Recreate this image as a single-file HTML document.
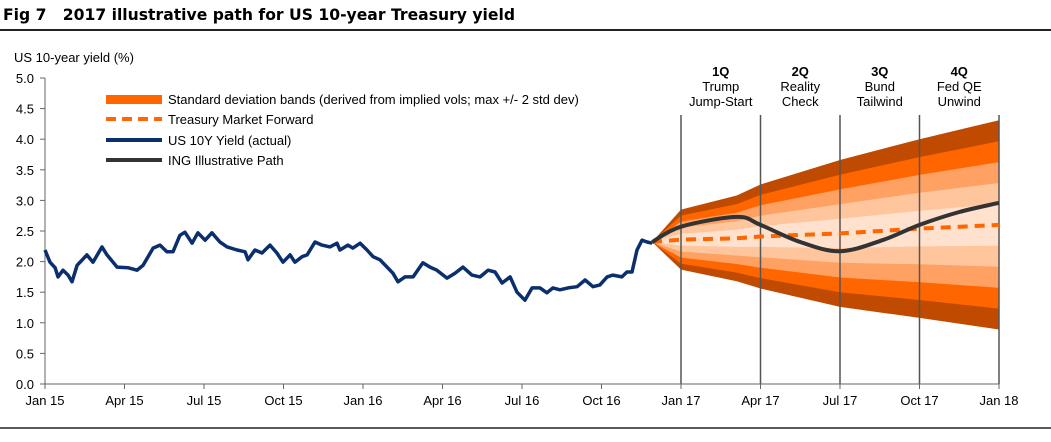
<!DOCTYPE html>
<html><head><meta charset="utf-8">
<style>
html,body{margin:0;padding:0;background:#fff;}
body{width:1051px;height:437px;overflow:hidden;font-family:"Liberation Sans",Arial,sans-serif;}
svg text{font-family:"Liberation Sans",Arial,sans-serif;}
</style></head>
<body>
<svg id="chart" width="1051" height="437" viewBox="0 0 1051 437">
  <text x="3" y="20" font-size="16" font-weight="bold" fill="#000" textLength="512" lengthAdjust="spacingAndGlyphs" style="font-family:'DejaVu Sans',sans-serif">Fig 7&#160;&#160; 2017 illustrative path for US 10-year Treasury yield</text>
  <line x1="0" y1="30" x2="1051" y2="30" stroke="#222" stroke-width="2"/>
  <line x1="0" y1="428" x2="1051" y2="428" stroke="#222" stroke-width="1.5"/>
  <text x="14" y="62" font-size="13" fill="#000">US 10-year yield (%)</text>
  <g id="bands"></g>
  <g id="vlines"></g>
  <g id="axes"></g>
  <g id="series"></g>
  <g id="legend">
    <rect x="106" y="95" width="56" height="9" fill="#FF6600"/>
    <text x="168" y="104" font-size="13">Standard deviation bands (derived from implied vols; max +/- 2 std dev)</text>
    <line x1="106" y1="119" x2="162" y2="119" stroke="#FF6600" stroke-width="4" stroke-dasharray="10,6"/>
    <text x="168" y="124" font-size="13">Treasury Market Forward</text>
    <line x1="106" y1="140" x2="162" y2="140" stroke="#0B2F6E" stroke-width="4"/>
    <text x="168" y="145" font-size="13">US 10Y Yield (actual)</text>
    <line x1="106" y1="160" x2="162" y2="160" stroke="#333" stroke-width="4"/>
    <text x="168" y="165" font-size="13">ING Illustrative Path</text>
  </g>
  <g id="qlabels"></g>
</svg>
<script>
// ---- data ----
const xTickLabels = ["Jan 15","Apr 15","Jul 15","Oct 15","Jan 16","Apr 16","Jul 16","Oct 16","Jan 17","Apr 17","Jul 17","Oct 17","Jan 18"];
const yTicks = [0,0.5,1,1.5,2,2.5,3,3.5,4,4.5,5];
// actual yield: months since Jan 2015
const actualMonths = [0,.19,.38,.49,.68,.87,1.02,1.21,1.58,1.81,2.15,2.34,2.72,3.13,3.47,3.70,4.08,4.34,4.60,4.83,5.09,5.28,5.55,5.77,6.04,6.30,6.60,6.87,7.25,7.55,7.66,7.92,8.19,8.49,8.75,8.98,9.25,9.43,9.70,9.89,10.19,10.45,10.75,11.02,11.13,11.43,11.62,11.89,12.15,12.38,12.64,12.91,13.13,13.32,13.58,13.89,14.26,14.53,14.79,15.17,15.47,15.77,16.11,16.42,16.72,16.98,17.25,17.55,17.81,18.11,18.38,18.68,18.94,19.17,19.43,19.74,20.08,20.38,20.68,20.94,21.21,21.43,21.77,21.96,22.15,22.34,22.53,22.72,22.91];
const actualValues = [2.19,1.99,1.90,1.75,1.86,1.78,1.67,1.94,2.11,1.99,2.24,2.11,1.91,1.90,1.86,1.94,2.22,2.27,2.16,2.16,2.43,2.48,2.30,2.47,2.35,2.47,2.32,2.24,2.19,2.16,2.03,2.19,2.14,2.27,2.14,1.99,2.11,1.99,2.08,2.11,2.32,2.27,2.24,2.30,2.19,2.27,2.22,2.30,2.19,2.08,2.03,1.91,1.81,1.67,1.75,1.75,1.98,1.91,1.86,1.73,1.81,1.91,1.78,1.75,1.86,1.83,1.65,1.75,1.50,1.37,1.57,1.57,1.49,1.57,1.54,1.57,1.59,1.70,1.59,1.62,1.75,1.78,1.75,1.83,1.83,2.19,2.35,2.32,2.30];
// projection
const projMonths = [22.91,24,26.1,27,30,33,36];
const forwardValues = [2.32,2.36,2.38,2.41,2.46,2.54,2.60];
const maxHalfWidth = [0,0.49,0.70,0.85,1.20,1.46,1.71];
const ingMonths = [22.91,24,26.1,27,28.5,30,31.6,33,34.5,36];
const ingValues = [2.32,2.57,2.73,2.60,2.32,2.17,2.35,2.60,2.81,2.96];
const quarterTitles = ["1Q","2Q","3Q","4Q"];
const quarterLine1 = ["Trump","Reality","Bund","Fed QE"];
const quarterLine2 = ["Jump-Start","Check","Tailwind","Unwind"];

// ---- scales ----
const X0=45, X1=999, Y0=384, Y5=78;
const xs = m => X0 + (X1-X0)*m/36;
const ys = v => Y0 - (Y0-Y5)*v/5;
const NS="http://www.w3.org/2000/svg";
function mk(tag, attrs, parent){const e=document.createElementNS(NS,tag);for(const k in attrs)e.setAttribute(k,attrs[k]);parent.appendChild(e);return e;}

// bands
const bandColors=["#C04B00","#FF6600","#FFA163","#FFC59D","#FFE1CD"];
const bands=document.getElementById('bands');
for(let k=5;k>=1;k--){
  const f=k/5;
  let top=projMonths.map((m,i)=>xs(m).toFixed(1)+","+ys(forwardValues[i]+maxHalfWidth[i]*f).toFixed(1));
  let bot=projMonths.map((m,i)=>xs(m).toFixed(1)+","+ys(forwardValues[i]-maxHalfWidth[i]*f).toFixed(1)).reverse();
  const p=mk('polygon',{points:top.concat(bot).join(" "),fill:bandColors[5-k]},bands);
  
  
}

// quarter dividers
const vl=document.getElementById('vlines');
for(let i=0;i<5;i++){
  const x=xs(24+3*i);
  const l=mk('line',{x1:x,y1:115,x2:x,y2:Y0,stroke:"#555","stroke-width":1.5},vl);
  
  
}
// quarter labels
const ql=document.getElementById('qlabels');
for(let i=0;i<4;i++){
  const cx=xs(25.5+3*i);
  const t1=mk('text',{x:cx,y:76,"font-size":13,"font-weight":"bold","text-anchor":"middle"},ql);t1.textContent=quarterTitles[i];
  
  
  const t2=mk('text',{x:cx,y:91,"font-size":13,"text-anchor":"middle"},ql);t2.textContent=quarterLine1[i];
  
  
  const t3=mk('text',{x:cx,y:106,"font-size":13,"text-anchor":"middle"},ql);t3.textContent=quarterLine2[i];
  
  
}

// axes
const ax=document.getElementById('axes');
const yl=mk('line',{x1:X0,y1:Y5,x2:X0,y2:Y0,stroke:"#666","stroke-width":1},ax);


const xl=mk('line',{x1:X0,y1:Y0,x2:X1,y2:Y0,stroke:"#666","stroke-width":1},ax);


yTicks.forEach(v=>{
  const y=ys(v);
  const t=mk('line',{x1:X0-5,y1:y,x2:X0,y2:y,stroke:"#666"},ax);
  
  
  const tx=mk('text',{x:34,y:y+5,"font-size":13,"text-anchor":"end"},ax);tx.textContent=v.toFixed(1);
  
  
});
xTickLabels.forEach((s,i)=>{
  const x=xs(i*3);
  const t=mk('line',{x1:x,y1:Y0,x2:x,y2:Y0+5,stroke:"#666"},ax);
  
  
  const tx=mk('text',{x:x,y:405,"font-size":13,"text-anchor":"middle"},ax);tx.textContent=s;
  
  
});

// series
const sg=document.getElementById('series');
const fwd=mk('polyline',{points:projMonths.map((m,i)=>xs(m).toFixed(1)+","+ys(forwardValues[i]).toFixed(1)).join(" "),fill:"none",stroke:"#FF6600","stroke-width":4,"stroke-dasharray":"10,7"},sg);


const act=mk('polyline',{points:actualMonths.map((m,i)=>xs(m).toFixed(1)+","+ys(actualValues[i]).toFixed(1)).join(" "),fill:"none",stroke:"#0B2F6E","stroke-width":3.5,"stroke-linejoin":"round"},sg);


// smooth ING path (catmull-rom)
const P=ingMonths.map((m,i)=>[xs(m),ys(ingValues[i])]);
let d="M"+P[0][0].toFixed(1)+","+P[0][1].toFixed(1);
for(let i=0;i<P.length-1;i++){
  const p0=P[i-1]||P[i],p1=P[i],p2=P[i+1],p3=P[i+2]||P[i+1];
  const c1=[p1[0]+(p2[0]-p0[0])/6,p1[1]+(p2[1]-p0[1])/6];
  const c2=[p2[0]-(p3[0]-p1[0])/6,p2[1]-(p3[1]-p1[1])/6];
  d+=" C"+c1.map(v=>v.toFixed(1)).join(",")+" "+c2.map(v=>v.toFixed(1)).join(",")+" "+p2.map(v=>v.toFixed(1)).join(",");
}
const ing=mk('path',{d:d,fill:"none",stroke:"#333","stroke-width":4},sg);


</script>
</body></html>
